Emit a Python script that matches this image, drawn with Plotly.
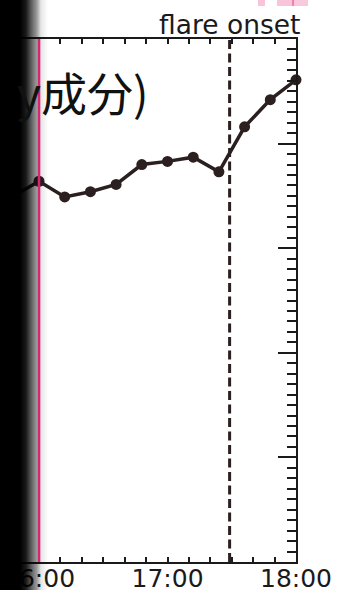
import plotly.graph_objects as go

DAY = "2024-01-01"

# sampled component values (arbitrary units)
times = ["15:48", "16:00", "16:12", "16:24", "16:36", "16:48",
         "17:00", "17:12", "17:24", "17:36", "17:48", "18:00"]
values = [3.50, 3.64, 3.49, 3.54, 3.61, 3.80,
          3.83, 3.87, 3.73, 4.16, 4.42, 4.61]

tick_times = ["16:00", "17:00", "18:00"]
tick_labels = ["16:00", "17:00", "18:00"]

marker_time = "16:00"     # magenta reference line
onset_time = "17:29"      # flare onset
onset_label = "flare onset"
title_text = "y成分)"

W, H = 338, 590
ML, MR, MT, MB = 0, 42, 39, 28
PW, PH = W - ML - MR, H - MT - MB


def px(x):
    return (x - ML) / PW


def py(y):
    return (H - MB - y) / PH


def ts(t):
    return f"{DAY} {t}"


fig = go.Figure()
fig.add_trace(go.Scatter(
    x=[ts(t) for t in times], y=values,
    mode="lines+markers",
    line=dict(color="#2b1f1f", width=3.5),
    marker=dict(color="#2b1f1f", size=11, symbol="circle"),
    cliponaxis=False, showlegend=False, hoverinfo="skip",
))

shapes = []

# dashed onset line
shapes.append(dict(type="line", xref="x", yref="paper",
                   x0=ts(onset_time), x1=ts(onset_time), y0=0, y1=1,
                   line=dict(color="#2b2020", width=3, dash="9px,4.5px"),
                   layer="above"))

# dark fade on the left edge
fade = [(0, 1.0), (20, 1.0), (26, 0.9), (32, 0.6), (37, 0.38), (41, 0.1), (48, 0.0)]


def fade_alpha(x):
    for (x0, a0), (x1, a1) in zip(fade[:-1], fade[1:]):
        if x0 <= x <= x1:
            return a0 + (a1 - a0) * (x - x0) / (x1 - x0)
    return 0.0


for i in range(48):
    a = fade_alpha(i + 0.5)
    if a <= 0:
        continue
    shapes.append(dict(type="rect", xref="paper", yref="paper",
                       x0=px(i), x1=px(i + 1), y0=py(H), y1=py(0),
                       fillcolor=f"rgba(0,0,0,{a:.3f})", line=dict(width=0),
                       layer="above"))

# magenta reference line
shapes.append(dict(type="line", xref="x", yref="paper",
                   x0=ts(marker_time), x1=ts(marker_time), y0=0, y1=1,
                   line=dict(color="#d92670", width=2.5), layer="above"))

# small pink blocks along the top edge
for (x0, x1, c) in [(258, 265, "#f9c3d9"), (277, 292, "#f9c3d9"),
                    (292, 294, "#f27fb0"), (294, 308, "#f9c8dc")]:
    shapes.append(dict(type="rect", xref="paper", yref="paper",
                       x0=px(x0), x1=px(x1), y0=py(6), y1=py(0),
                       fillcolor=c, line=dict(width=0), layer="above"))

annotations = [
    dict(text=onset_label, xref="x", yref="paper", x=ts(onset_time), y=py(24),
         xanchor="center", yanchor="middle", showarrow=False,
         font=dict(family="DejaVu Sans", size=26.5, color="#1a1a1a")),
    dict(text=title_text, xref="paper", yref="paper", x=px(15), y=py(91),
         xanchor="left", yanchor="middle", showarrow=False,
         font=dict(family="Noto Sans CJK JP", size=46, color="#111111")),
]

fig.update_layout(
    width=W, height=H, autosize=False,
    margin=dict(l=ML, r=MR, t=MT, b=MB, pad=0),
    paper_bgcolor="white", plot_bgcolor="white",
    shapes=shapes, annotations=annotations,
    xaxis=dict(
        type="date", automargin=False,
        range=[ts("15:41:47"), ts("18:00")],
        tickmode="array", tickvals=[ts(t) for t in tick_times], ticktext=tick_labels,
        ticks="inside", ticklen=5, tickwidth=1.5, tickcolor="#1a1a1a",
        ticklabelstandoff=-7,
        minor=dict(tickmode="linear", tick0=ts("16:00"), dtick=600000,
                   ticks="inside", ticklen=5, tickwidth=1.5, tickcolor="#1a1a1a"),
        showline=True, linewidth=2, linecolor="#1a1a1a", mirror="ticks",
        showgrid=False, zeroline=False,
        tickfont=dict(family="DejaVu Sans", size=25, color="#1a1a1a"),
    ),
    yaxis=dict(
        range=[0, 5], side="right", showticklabels=False, automargin=False,
        tickmode="linear", tick0=0, dtick=1,
        ticks="inside", ticklen=18, tickwidth=1.5, tickcolor="#1a1a1a",
        minor=dict(tickmode="linear", tick0=0, dtick=0.1,
                   ticks="inside", ticklen=9, tickwidth=1.5, tickcolor="#1a1a1a"),
        showline=True, linewidth=2, linecolor="#1a1a1a",
        showgrid=False, zeroline=False,
    ),
)

fig.write_html("out.html", config={"displayModeBar": False})
